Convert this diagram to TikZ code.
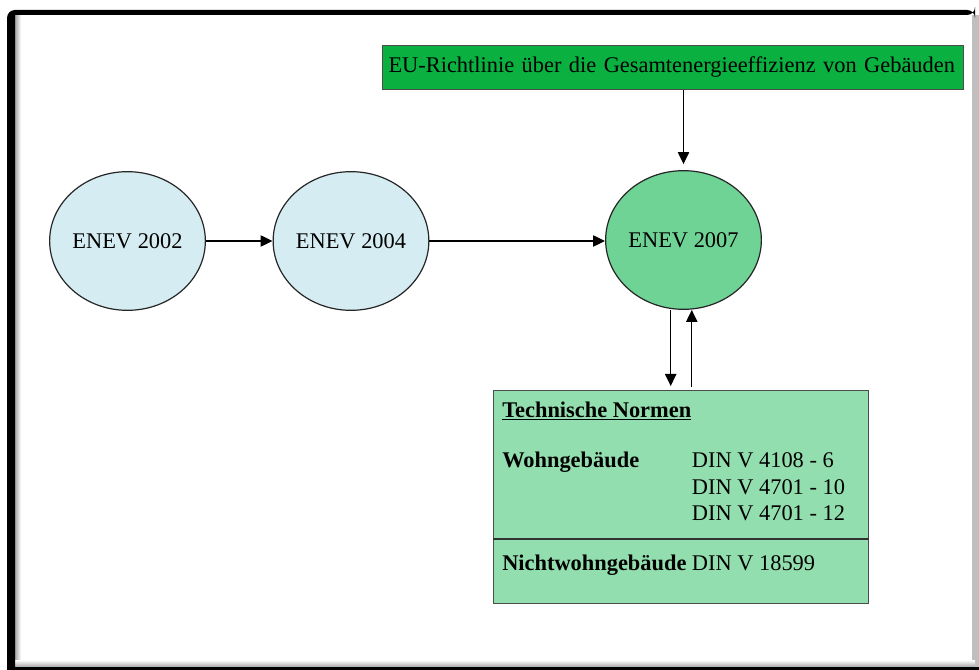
\documentclass[tikz,border=0pt]{standalone}
\usepackage{fontspec}
\setmainfont{Liberation Serif}
\usetikzlibrary{arrows.meta,shapes.geometric,calc}
\definecolor{lightblue}{RGB}{213,237,242}
\definecolor{midgreen}{RGB}{112,211,150}
\definecolor{eugreen}{RGB}{10,176,64}
\definecolor{boxgreen}{RGB}{147,222,174}
\begin{document}
\begin{tikzpicture}[x=0.75pt,y=-0.75pt,
  fnt/.style={font=\fontsize{16.8}{19}\selectfont},
  fntb/.style={font=\fontsize{16.8}{19}\selectfont\bfseries},
  enev/.style={ellipse, draw=black!85, line width=0.9pt, minimum width=108.75pt, minimum height=104pt, inner sep=0pt, fnt},
  arr/.style={-{Triangle[length=9pt,width=8.5pt]}, line width=0.9pt},
  txt/.style={anchor=base west, inner sep=0pt}]
\useasboundingbox (0,0) rectangle (979,670);
\clip (0,0) rectangle (979,670);
% frame
\fill[black!25] (972,15) rectangle (979,667);
\shade[left color=black!35, right color=white] (15,15) rectangle (21,667);
\shade[top color=white, bottom color=black!35] (15,660) rectangle (975,667);
\fill[black, even odd rule] [rounded corners=6pt] (7,700) -- (7,10) -- (975,10) -- (975,15) [sharp corners] -- (15,15) -- (15,667) -- (979,667) -- (979,700) -- cycle;
% nodes
\node[enev, fill=lightblue] (e02) at (127.5,241) {ENEV 2002};
\node[enev, fill=lightblue] (e04) at (351,241) {ENEV 2004};
\node[enev, fill=midgreen] (e07) at (683.5,240) {ENEV 2007};
\node[draw=black!70, fill=eugreen, anchor=north west, minimum width=436pt, minimum height=33pt,
      inner xsep=5pt, text width=426pt, align=left, fnt] (eu) at (381.6,45)
      {EU-Richtlinie über die Gesamtenergieeffizienz von Gebäuden};
\node[draw=black!70, fill=boxgreen, anchor=north west, minimum width=281.25pt, minimum height=159.75pt, inner sep=0pt] (normen) at (493,390) {};
\draw[black!80, line width=0.8pt] (normen.west |- 0,539) -- (normen.east |- 0,539);
\node[txt, fntb] (thead) at (502,417) {\underline{Technische Normen}};
\node[txt, fntb] (wohn) at (502,468) {Wohngebäude};
\node[txt, fnt] (din1) at (691.7,468) {DIN V 4108 - 6};
\node[txt, fnt] (din2) at (691.7,494) {DIN V 4701 - 10};
\node[txt, fnt] (din3) at (691.7,520) {DIN V 4701 - 12};
\node[txt, fntb] (nicht) at (502,570.7) {Nichtwohngebäude};
\node[txt, fnt] (din4) at (691.7,570.7) {DIN V 18599};
% connectors
\draw[arr] (e02) -- (e04);
\draw[arr] (e04.east) -- (e04.east -| e07.west);
\draw[arr, shorten >=4.5pt] (eu.south -| e07) -- (e07.north);
\draw[arr, shorten >=3pt] ([xshift=-9.6pt]e07.south) -- ([xshift=-9.6pt]e07.south |- normen.north);
\draw[arr, shorten <=2.5pt] ([xshift=6.2pt]e07.south |- normen.north) -- ([xshift=6.2pt]e07.south);
\end{tikzpicture}
\end{document}
